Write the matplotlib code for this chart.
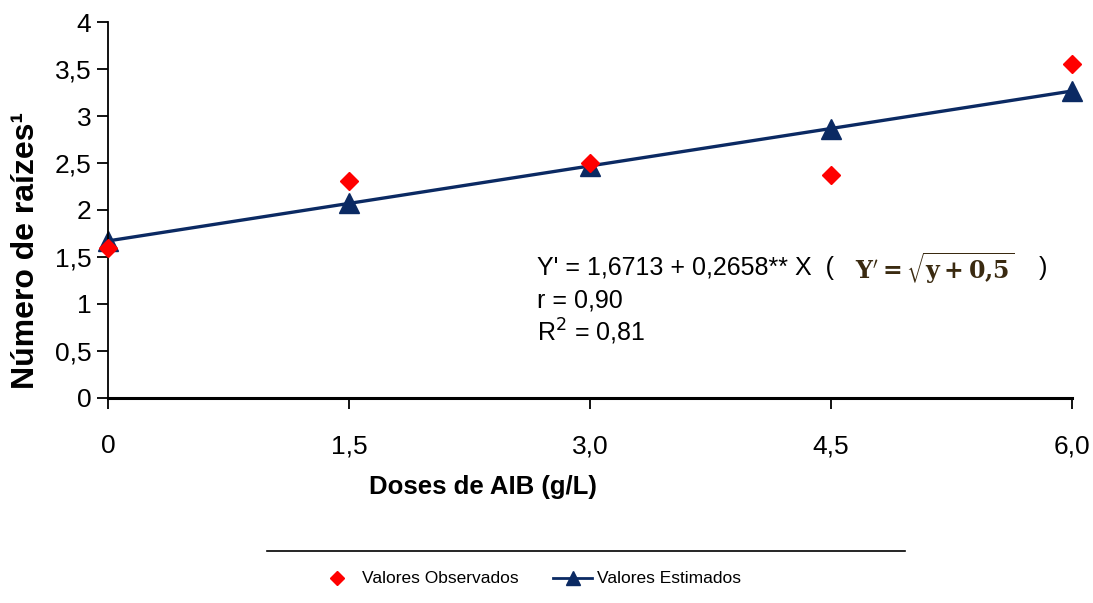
import numpy as np
import matplotlib.pyplot as plt
from matplotlib.lines import Line2D

plt.rcParams['font.family'] = ['Liberation Sans', 'DejaVu Sans']

# doses de AIB (g/L)
doses = [0, 1.5, 3.0, 4.5, 6.0]
dose_labels = ['0', '1,5', '3,0', '4,5', '6,0']
# valores observados
observados = [1.60, 2.31, 2.50, 2.37, 3.55]
# valores estimados pela regressao Y' = 1,6713 + 0,2658 X
estimados = [1.671, 2.070, 2.469, 2.867, 3.266]
y_ticks = [0, 0.5, 1, 1.5, 2, 2.5, 3, 3.5, 4]
y_tick_labels = ['0', '0,5', '1', '1,5', '2', '2,5', '3', '3,5', '4']

navy = '#0b2a63'

fig = plt.figure(figsize=(10.93, 6.03), dpi=100)
ax = fig.add_axes([0.0988, 0.340, 0.882, 0.6235])

ax.plot(doses, estimados, color=navy, lw=2.4, marker='^', ms=14, zorder=2, clip_on=False)
ax.plot(doses, observados, 'D', color='red', ms=9.5, zorder=3, clip_on=False)

ax.set_xlim(0, 6)
ax.set_ylim(0, 4)
ax.set_xticks(doses)
ax.set_xticklabels(dose_labels)
ax.set_yticks(y_ticks)
ax.set_yticklabels(y_tick_labels)
ax.tick_params(axis='x', length=8, width=1.3, pad=18, labelsize=19)
ax.tick_params(axis='y', length=8, width=1.3, pad=4, labelsize=19)

for s in ['top', 'right']:
    ax.spines[s].set_visible(False)
ax.spines['left'].set_linewidth(1.3)
ax.spines['bottom'].set_linewidth(2.2)

fig.text(0.024, 0.585, 'Número de raízes¹', fontsize=23, fontweight='bold',
         rotation=90, ha='center', va='center')
fig.text(0.442, 0.192, 'Doses de AIB (g/L)', fontsize=18.5, fontweight='bold',
         ha='center', va='center')

# equacao
fig.text(0.491, 0.555, "Y' = 1,6713 + 0,2658** X  (", fontsize=18, va='center')
fig.text(0.782, 0.555, r"$\mathbf{Y' = \sqrt{y + 0{,}5}}$", fontsize=17, va='center',
         color='#3a2a10', math_fontfamily='dejavuserif')
fig.text(0.950, 0.555, ")", fontsize=18, va='center')
fig.text(0.491, 0.502, "r = 0,90", fontsize=18, va='center')
fig.text(0.491, 0.449, "R$^{2}$ = 0,81", fontsize=18, va='center')

# legenda
fig.add_artist(Line2D([0.244, 0.828], [0.086, 0.086], color='black', lw=1.2))
fig.add_artist(Line2D([0.308], [0.041], marker='D', color='red', ms=7, ls='none'))
fig.text(0.331, 0.041, 'Valores Observados', fontsize=12.5, va='center')
fig.add_artist(Line2D([0.506, 0.542], [0.041, 0.041], color=navy, lw=2))
fig.add_artist(Line2D([0.524], [0.041], marker='^', color=navy, ms=10, ls='none'))
fig.text(0.546, 0.041, 'Valores Estimados', fontsize=12.5, va='center')

fig.savefig('out.png', dpi=100)
